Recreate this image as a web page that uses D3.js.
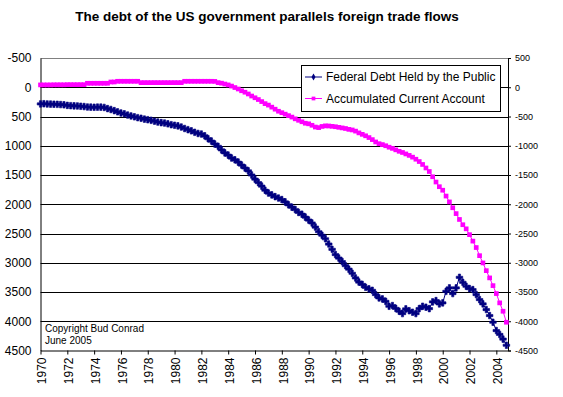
<!DOCTYPE html>
<meta charset="utf-8">
<head>
<title>US debt vs accumulated current account</title>
<script src="https://cdnjs.cloudflare.com/ajax/libs/d3/7.8.5/d3.min.js" charset="utf-8"></script>
<style type="text/css">
body {margin: 0; background: #fff;}
text {font-family: "Liberation Sans", Arial, sans-serif; fill: #000;}
.domain {stroke: #000;}
</style>
</head>
<body>
<script>
// Data, quarterly from 1970 Q1 to 2004 Q4 (one row per year)
var startYear = 1970;

// Federal Debt Held by the Public (left axis, inverted)
var debt = [
  285, 282, 286, 288,
  290, 292, 296, 300,
  310, 315, 318, 320,
  325, 330, 338, 340,
  342, 340, 340, 345,
  365, 380, 400, 420,
  440, 454, 475, 490,
  505, 520, 530, 545,
  555, 565, 580, 595,
  605, 612, 625, 640,
  650, 660, 680, 705,
  725, 745, 770, 790,
  800, 830, 880, 920,
  970, 1010, 1070, 1122,
  1160, 1210, 1240, 1280,
  1330, 1380, 1430, 1500,
  1570, 1630, 1690, 1760,
  1809, 1840, 1870, 1894,
  1920, 1960, 2010, 2050,
  2090, 2140, 2170, 2220,
  2270, 2320, 2390, 2470,
  2530, 2590, 2680, 2770,
  2860, 2920, 2980, 3050,
  3110, 3180, 3260, 3330,
  3370, 3420, 3447, 3471,
  3544, 3601, 3618, 3660,
  3744, 3732, 3780, 3829,
  3869, 3789, 3820, 3846,
  3869, 3784, 3744, 3760,
  3784, 3669, 3647, 3703,
  3686, 3488, 3430, 3527,
  3430, 3249, 3334, 3402,
  3442, 3459, 3544, 3630,
  3703, 3800, 3903, 4017,
  4159, 4225, 4305, 4410
];

// Accumulated Current Account (right axis)
var account = [
  40, 40, 40, 40,
  42, 42, 42, 42,
  44, 44, 44, 44,
  44, 44, 68, 68,
  68, 68, 68, 68,
  68, 90, 90, 102,
  102, 102, 102, 102,
  102, 102, 79, 79,
  79, 79, 79, 79,
  79, 79, 79, 79,
  79, 79, 79, 102,
  102, 102, 102, 102,
  102, 102, 102, 102,
  100, 79, 70, 55,
  40, 20, -5, -30,
  -60, -85, -115, -150,
  -180, -210, -245, -280,
  -305, -340, -375, -410,
  -435, -460, -485, -510,
  -540, -565, -590, -615,
  -625, -650, -680, -690,
  -670, -660, -662, -668,
  -675, -685, -695, -705,
  -720, -730, -750, -780,
  -805, -830, -860, -895,
  -935, -965, -980, -1000,
  -1025, -1045, -1070, -1095,
  -1115, -1140, -1165, -1195,
  -1230, -1270, -1320, -1380,
  -1440, -1530, -1620, -1700,
  -1760, -1860, -1960, -2060,
  -2160, -2260, -2350, -2420,
  -2520, -2630, -2740, -2879,
  -3003, -3135, -3259, -3391,
  -3527, -3686, -3829, -4017
];

var tickYears = [1970, 1972, 1974, 1976, 1978, 1980, 1982, 1984, 1986, 1988,
                 1990, 1992, 1994, 1996, 1998, 2000, 2002, 2004];
var leftTicks  = [-500, 0, 500, 1000, 1500, 2000, 2500, 3000, 3500, 4000, 4500];
var rightTicks = [500, 0, -500, -1000, -1500, -2000, -2500, -3000, -3500, -4000, -4500];
var gridValues = [0, 500, 1000, 1500, 2000, 2500, 3000, 3500, 4000];

var width   = 563,
    height  = 397,
    plotL   = 40.5,
    plotR   = 508,
    plotT   = 58,
    plotB   = 350.5;

var plain = d => String(d);   // keep ascii hyphen for negatives

var svg = d3.select("body").append("svg")
  .attr("width", width)
  .attr("height", height);

var x = d3.scaleLinear().domain([1970, 2004.87]).range([plotL, plotR]);
var yL = d3.scaleLinear().domain([-500, 4500]).range([plotT, plotB]);
var yR = d3.scaleLinear().domain([500, -4500]).range([plotT, plotB]);

var t = function(d, i) { return startYear + i / 4; };

// title
svg.append("text")
  .attr("x", 267)
  .attr("y", 21)
  .attr("text-anchor", "middle")
  .style("font-size", "13.5px")
  .style("font-weight", "bold")
  .text("The debt of the US government parallels foreign trade flows");

// grid lines
svg.append("line")
  .attr("x1", plotL).attr("x2", plotR)
  .attr("y1", Math.round(yL(-500)) + 0.5).attr("y2", Math.round(yL(-500)) + 0.5)
  .style("stroke", "#808080");

svg.selectAll(".grid")
  .data(gridValues)
  .enter().append("line")
  .attr("class", "grid")
  .attr("x1", plotL).attr("x2", plotR)
  .attr("y1", d => Math.round(yL(d)) + 0.5)
  .attr("y2", d => Math.round(yL(d)) + 0.5)
  .style("stroke", "#000");

// axes
var gl = svg.append("g")
  .attr("transform", "translate(" + plotL + ",0)")
  .call(d3.axisLeft(yL).tickValues(leftTicks).tickSize(0).tickPadding(9).tickFormat(plain));
gl.selectAll("text").style("font-size", "12px").style("font-family", null);

var gr = svg.append("g")
  .attr("transform", "translate(" + plotR + ",0)")
  .call(d3.axisRight(yR).tickValues(rightTicks).tickSize(3).tickPadding(4).tickFormat(plain));
gr.selectAll("text").style("font-size", "9px").style("font-family", null);

var gb = svg.append("g")
  .attr("transform", "translate(0," + plotB + ")")
  .call(d3.axisBottom(x).tickValues(tickYears).tickSize(4).tickSizeOuter(0).tickFormat(plain));
gb.selectAll("text")
  .style("font-size", "12px")
  .style("font-family", null)
  .attr("text-anchor", "end")
  .attr("transform", "translate(1,7) rotate(-90)")
  .attr("x", 0)
  .attr("y", 0)
  .attr("dy", "0.35em");

svg.selectAll(".domain").style("stroke", "#000");
svg.selectAll(".tick line").style("stroke", "#000");

// series
var debtLine = d3.line().x((d, i) => x(t(d, i))).y(d => yL(d));
var accLine  = d3.line().x((d, i) => x(t(d, i))).y(d => yR(d));

svg.append("path")
  .datum(account)
  .attr("d", accLine)
  .style("fill", "none")
  .style("stroke", "#ff00ff")
  .style("stroke-width", 1);

svg.selectAll(".acc")
  .data(account)
  .enter().append("path")
  .attr("class", "acc")
  .attr("transform", (d, i) => "translate(" + x(t(d, i)) + "," + yR(d) + ")")
  .attr("d", d3.symbol(d3.symbolSquare, 22))
  .style("fill", "#ff00ff");

svg.append("path")
  .datum(debt)
  .attr("d", debtLine)
  .style("fill", "none")
  .style("stroke", "#000080")
  .style("stroke-width", 1);

svg.selectAll(".debt")
  .data(debt)
  .enter().append("path")
  .attr("class", "debt")
  .attr("transform", (d, i) => "translate(" + x(t(d, i)) + "," + yL(d) + ")")
  .attr("d", d3.symbol(d3.symbolCross, 24))
  .style("fill", "#000080")
  .style("stroke", "#000080")
  .style("stroke-width", 0.6);

// copyright note
svg.append("text").attr("x", 45).attr("y", 332).style("font-size", "10px").text("Copyright Bud Conrad");
svg.append("text").attr("x", 45).attr("y", 343.5).style("font-size", "10px").text("June 2005");

// legend
var legend = svg.append("g");
legend.append("rect")
  .attr("x", 301.5).attr("y", 65.5)
  .attr("width", 199).attr("height", 46)
  .style("fill", "#fff")
  .style("stroke", "#000");

var items = [
  {name: "Federal Debt Held by the Public", color: "#000080", sym: d3.symbolDiamond, size: 14, y: 77},
  {name: "Accumulated Current Account", color: "#ff00ff", sym: d3.symbolSquare, size: 14, y: 98.5}
];
var li = legend.selectAll(".item").data(items).enter().append("g").attr("class", "item");
li.append("line")
  .attr("x1", 305).attr("x2", 322)
  .attr("y1", d => d.y).attr("y2", d => d.y)
  .style("stroke", d => d.color);
li.append("path")
  .attr("transform", d => "translate(313.5," + d.y + ")")
  .attr("d", d => d3.symbol(d.sym, d.size)())
  .style("fill", d => d.color);
li.append("text")
  .attr("x", 326).attr("y", d => d.y)
  .attr("dy", "0.35em")
  .style("font-size", "12px")
  .text(d => d.name);
</script>
</body>
